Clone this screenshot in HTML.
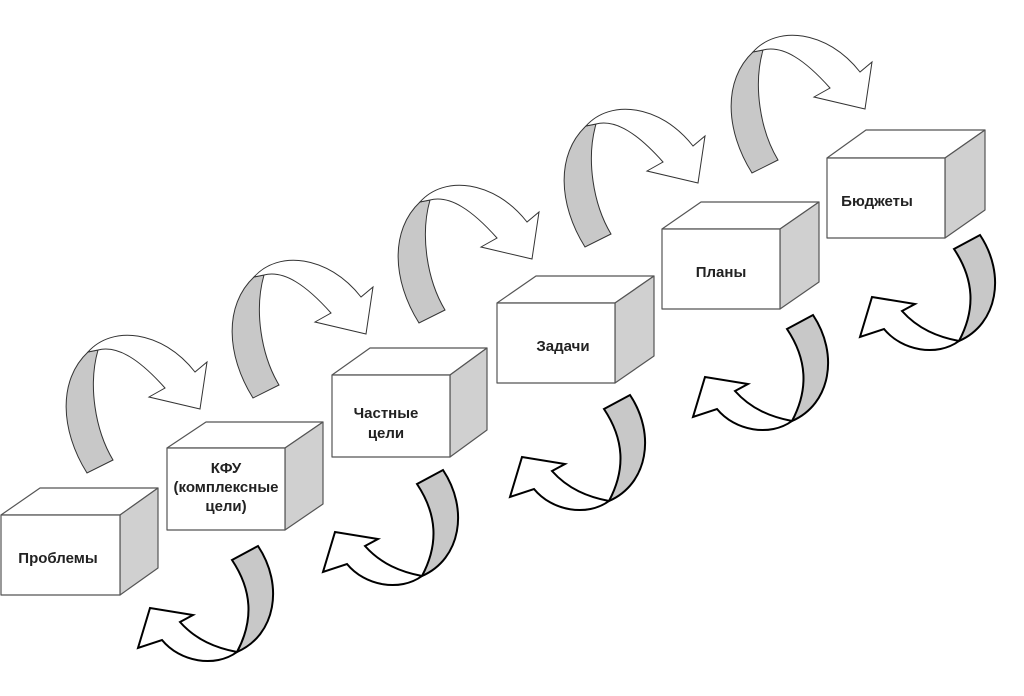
<!DOCTYPE html>
<html><head><meta charset="utf-8"><style>
html,body{margin:0;padding:0;background:#fff;width:1024px;height:696px;overflow:hidden}
svg{display:block}
text{font-family:"Liberation Sans",Arial,sans-serif;font-weight:bold;font-size:15px;fill:#222;text-anchor:middle}
</style></head><body>
<svg width="1024" height="696" viewBox="0 0 1024 696" xmlns="http://www.w3.org/2000/svg">
<defs>
<g id="up">
<path d="M87,473 C60,430 58,380 88,352 L98,350 C88,385 95,430 113,460 Z" fill="#c8c8c8" stroke="#333" stroke-width="1"/>
<path d="M88,352 C112,325 162,330 195,372 L207,362 L200,409 L149,397 L165,388 C140,360 118,345 98,350 Z" fill="#fff" stroke="#333" stroke-width="1"/>
</g>
<g id="dn">
<path d="M232,560 L258,546 C284,585 276,635 237,652 C254,620 252,590 232,560 Z" fill="#c8c8c8" stroke="#000" stroke-width="2"/>
<path d="M237,652 C215,668 180,662 162,640 L138,648 L150,608 L193,615 L180,622 C196,640 216,648 237,652 Z" fill="#fff" stroke="#000" stroke-width="2"/>
</g>
</defs>
<use href="#up"/>
<use href="#up" transform="translate(166,-75)"/>
<use href="#up" transform="translate(332,-150)"/>
<use href="#up" transform="translate(498,-226)"/>
<use href="#up" transform="translate(665,-300)"/>
<use href="#dn"/>
<use href="#dn" transform="translate(185,-76)"/>
<use href="#dn" transform="translate(372,-151)"/>
<use href="#dn" transform="translate(555,-231)"/>
<use href="#dn" transform="translate(722,-311)"/>
<g stroke="#555" stroke-width="1.2" stroke-linejoin="round">
<path d="M1,515 L40,488 L158,488 L120,515 Z" fill="#fff"/>
<path d="M120,515 L158,488 L158,568 L120,595 Z" fill="#d0d0d0"/>
<rect x="1" y="515" width="119" height="80" fill="#fff"/>
<path d="M167,448 L206,422 L323,422 L285,448 Z" fill="#fff"/>
<path d="M285,448 L323,422 L323,504 L285,530 Z" fill="#d0d0d0"/>
<rect x="167" y="448" width="118" height="82" fill="#fff"/>
<path d="M332,375 L370,348 L487,348 L450,375 Z" fill="#fff"/>
<path d="M450,375 L487,348 L487,430 L450,457 Z" fill="#d0d0d0"/>
<rect x="332" y="375" width="118" height="82" fill="#fff"/>
<path d="M497,303 L536,276 L654,276 L615,303 Z" fill="#fff"/>
<path d="M615,303 L654,276 L654,356 L615,383 Z" fill="#d0d0d0"/>
<rect x="497" y="303" width="118" height="80" fill="#fff"/>
<path d="M662,229 L701,202 L819,202 L780,229 Z" fill="#fff"/>
<path d="M780,229 L819,202 L819,282 L780,309 Z" fill="#d0d0d0"/>
<rect x="662" y="229" width="118" height="80" fill="#fff"/>
<path d="M827,158 L866,130 L985,130 L945,158 Z" fill="#fff"/>
<path d="M945,158 L985,130 L985,210 L945,238 Z" fill="#d0d0d0"/>
<rect x="827" y="158" width="118" height="80" fill="#fff"/>
</g>
<text x="58" y="563">Проблемы</text>
<text x="226" y="473">КФУ</text>
<text x="226" y="492">(комплексные</text>
<text x="226" y="511">цели)</text>
<text x="386" y="418">Частные</text>
<text x="386" y="438">цели</text>
<text x="563" y="351">Задачи</text>
<text x="721" y="277">Планы</text>
<text x="877" y="206">Бюджеты</text>
</svg>
</body></html>
